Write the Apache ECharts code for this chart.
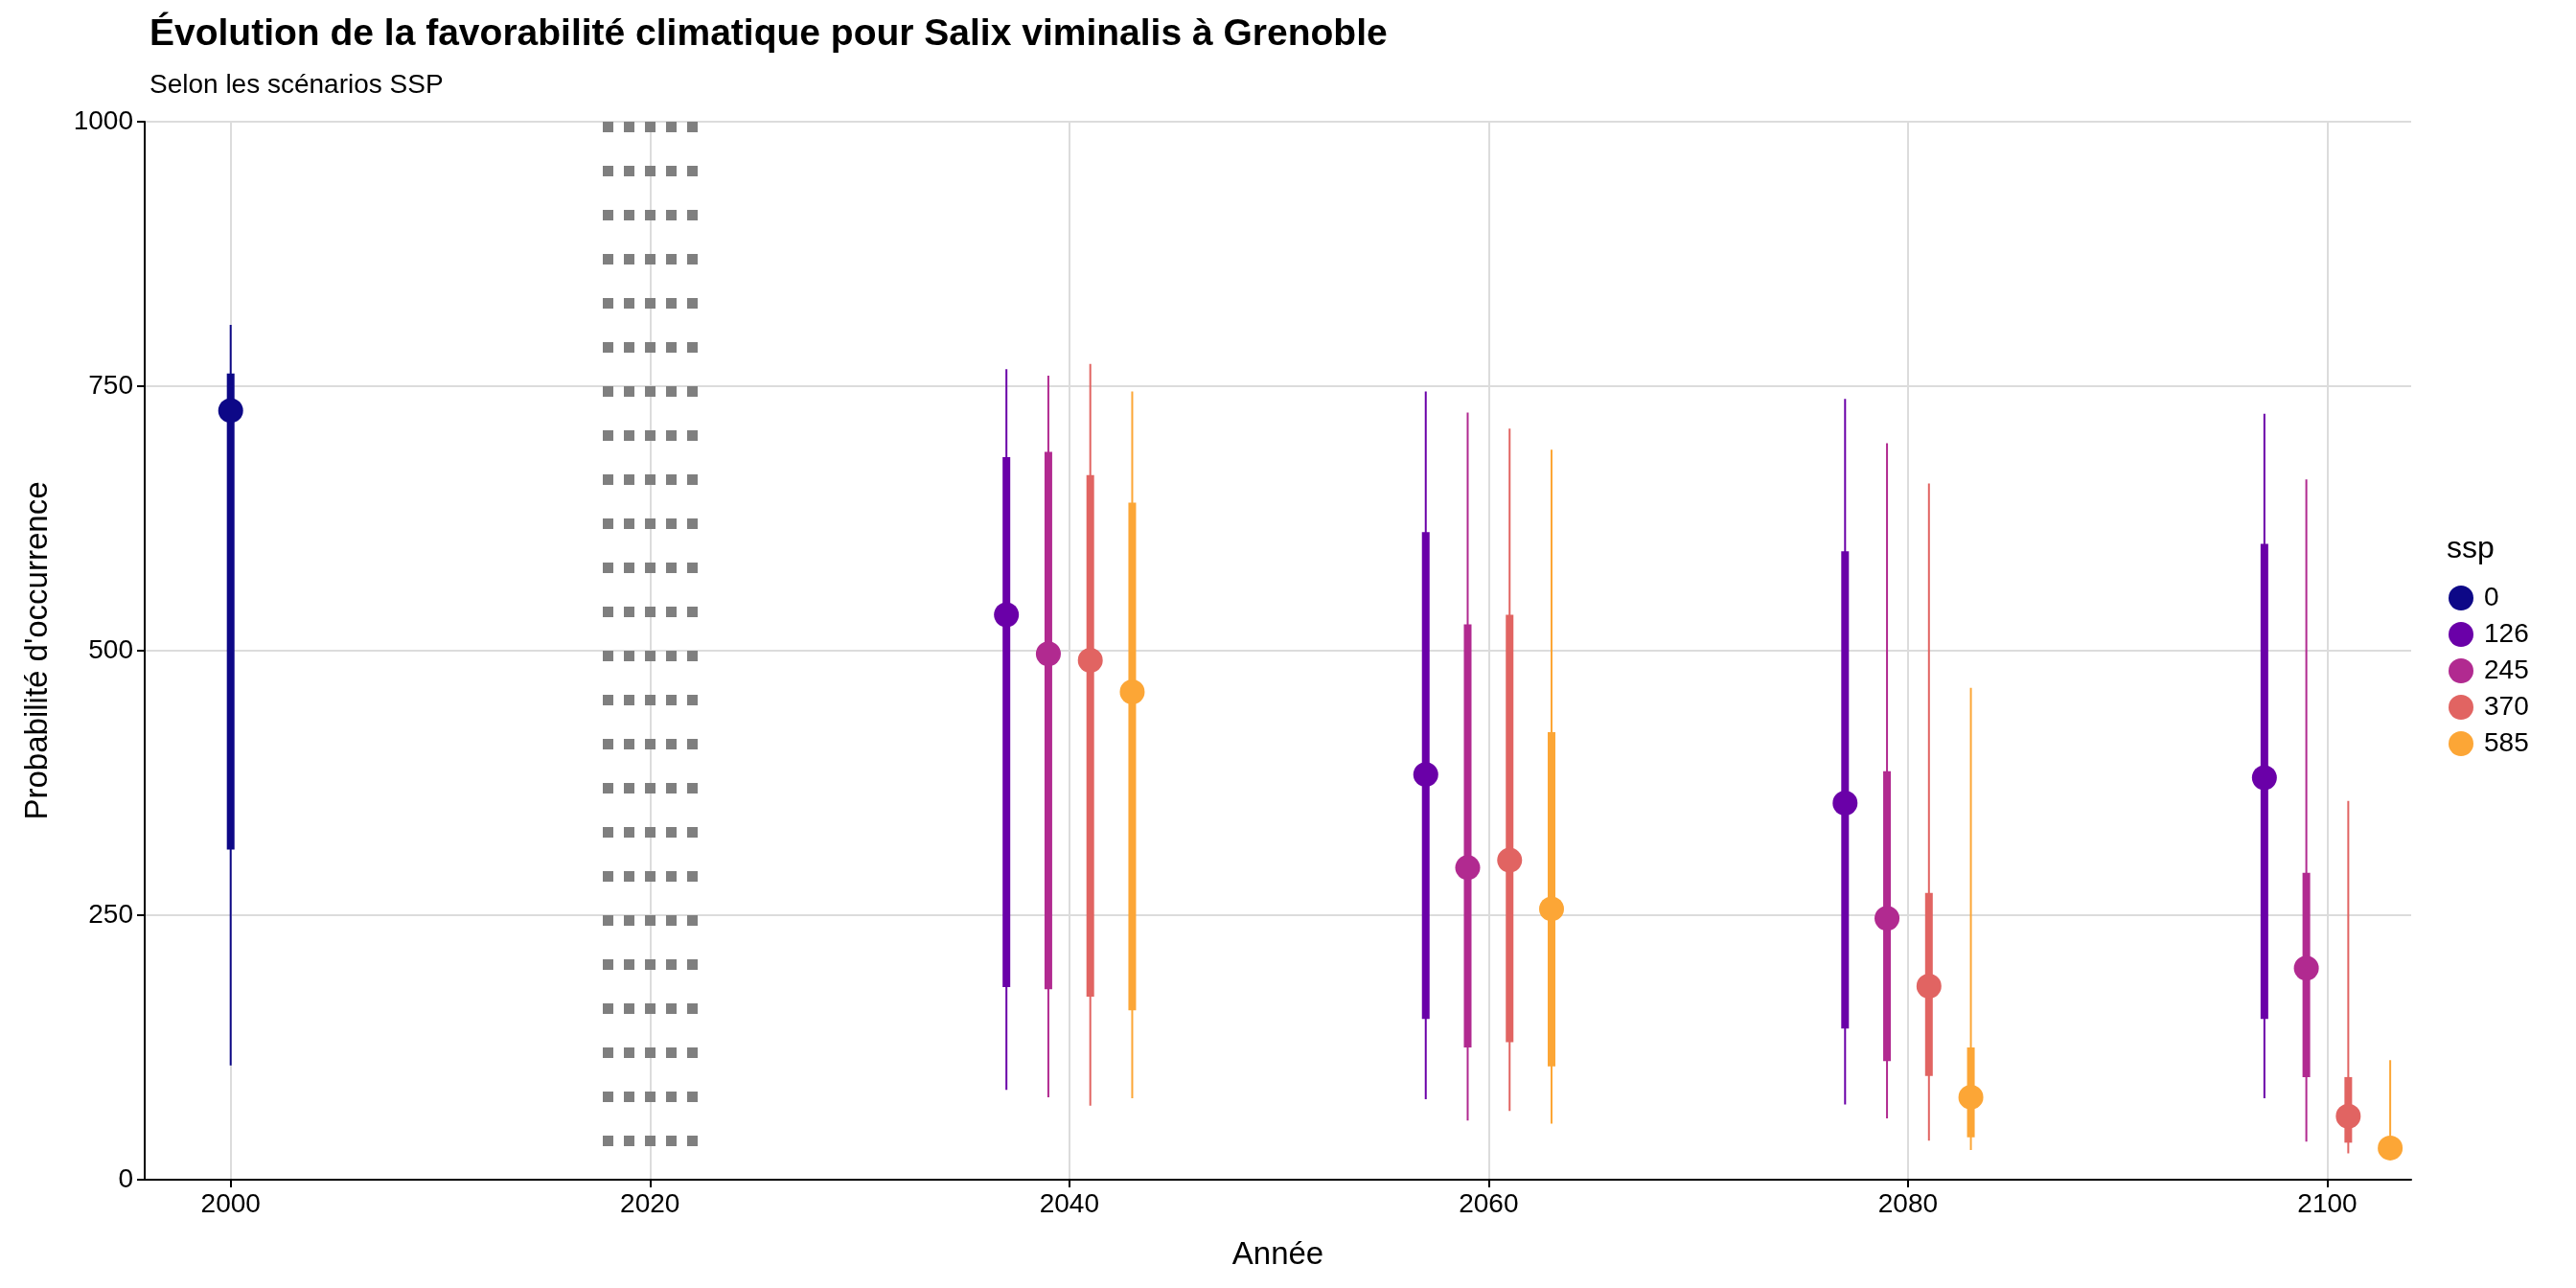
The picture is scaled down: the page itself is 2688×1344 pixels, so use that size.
<!DOCTYPE html>
<html><head><meta charset="utf-8">
<script src="https://cdn.jsdelivr.net/npm/echarts@6/dist/echarts.min.js"></script>
<style>html,body{margin:0;padding:0;background:#fff}#c{width:2688px;height:1344px}</style>
</head><body><div id="c"></div>
<script>
const sspNames = ['0','126','245','370','585'];
const sspColors = ['#0D0887','#6A00A8','#B12A90','#E16462','#FCA636'];
// [year, median, q25, q75, q025, q975]
const ssp0 = [[2000, 727, 312, 762, 108, 808]];
const ssp126 = [[2037,534,182,683,85,766],[2057,383,152,612,76,745],[2077,356,143,594,71,738],[2097,380,152,601,77,724]];
const ssp245 = [[2039,497,180,688,78,760],[2059,295,125,525,56,725],[2079,247,112,386,58,696],[2099,200,97,290,36,662]];
const ssp370 = [[2041,491,173,666,70,771],[2061,302,130,534,65,710],[2081,183,98,271,37,658],[2101,60,35,97,25,358]];
const ssp585 = [[2043,461,160,640,77,745],[2063,256,107,423,53,690],[2083,78,40,125,28,465],[2103,30,27,34,27,113]];
const xTicks = [2000,2020,2040,2060,2080,2100];
const refYears = [2018,2019,2020,2021,2022];
const allData = [ssp0, ssp126, ssp245, ssp370, ssp585];

function renderItem(color){
  return function(params, api){
    const x = api.value(0);
    const m = api.coord([x, api.value(1)]);
    const a = api.coord([x, api.value(2)]), b = api.coord([x, api.value(3)]);
    const c = api.coord([x, api.value(4)]), d = api.coord([x, api.value(5)]);
    return {type:'group', children:[
      {type:'line', shape:{x1:c[0],y1:c[1],x2:d[0],y2:d[1]}, style:{stroke:color,lineWidth:2}},
      {type:'line', shape:{x1:a[0],y1:a[1],x2:b[0],y2:b[1]}, style:{stroke:color,lineWidth:8}},
      {type:'circle', shape:{cx:m[0],cy:m[1],r:13}, style:{fill:color}}
    ]};
  };
}

const series = [{
  type:'line', data:[], silent:true, z:0,
  markLine:{silent:true, symbol:['none','none'], label:{show:false}, z:0,
    data: xTicks.map(v=>({xAxis:v, lineStyle:{color:'#dcdcdc',width:2,type:'solid'}})),
    animation:false}
},{
  type:'line', data:[], silent:true, z:1,
  markLine:{silent:true, symbol:['none','none'], label:{show:false}, z:1,
    data: refYears.map(v=>[{coord:[v,1000]},{coord:[v,0]}]),
    lineStyle:{color:'#7f7f7f',width:11,type:[11,35],cap:'butt'},
    animation:false}
}];
allData.forEach((d,i)=>{
  series.push({type:'custom', name:sspNames[i], data:d, renderItem:renderItem(sspColors[i]), z:5,
    itemStyle:{color:sspColors[i]}, encode:{x:0,y:1}});
});

const chart = echarts.init(document.getElementById('c'));
chart.setOption({
  animation:false,
  title:[{text:'Évolution de la favorabilité climatique pour Salix viminalis à Grenoble', left:151, top:12,
    textStyle:{fontFamily:'Liberation Sans',fontWeight:'bold',fontSize:39,color:'#000'}},
    {text:'Selon les scénarios SSP', left:151, top:70, textStyle:{fontFamily:'Liberation Sans',fontWeight:'normal',fontSize:28,color:'#000'}},
    {text:'ssp', left:2548, top:552, textStyle:{fontFamily:'Liberation Sans',fontWeight:'normal',fontSize:32,color:'#000'}}],
  legend:{orient:'vertical', left:2550, top:605, itemGap:10, itemWidth:26, itemHeight:26, icon:'circle',
    data:sspNames, textStyle:{fontFamily:'Liberation Sans',fontSize:28,color:'#000',padding:[0,0,0,6]}},
  grid:{left:151, right:172, top:127, bottom:113},
  xAxis:{type:'value', min:1995.9, max:2104, name:'Année', nameLocation:'middle', nameGap:62,
    nameTextStyle:{fontFamily:'Liberation Sans',fontSize:33,color:'#000'},
    axisLine:{show:true,lineStyle:{color:'#000',width:2}},
    axisTick:{show:true,customValues:xTicks,length:8,lineStyle:{color:'#000',width:2}},
    axisLabel:{customValues:xTicks,formatter:v=>String(v),fontFamily:'Liberation Sans',fontSize:28,color:'#000',margin:12},
    splitLine:{show:false}},
  yAxis:{type:'value', min:0, max:1000, interval:250, name:"Probabilité d'occurrence", nameLocation:'middle', nameGap:95,
    nameTextStyle:{fontFamily:'Liberation Sans',fontSize:33,color:'#000'},
    axisLine:{show:true,lineStyle:{color:'#000',width:2}},
    axisTick:{show:true,length:8,lineStyle:{color:'#000',width:2}},
    axisLabel:{formatter:v=>String(v),fontFamily:'Liberation Sans',fontSize:28,color:'#000',margin:12},
    splitLine:{show:true,lineStyle:{color:'#dcdcdc',width:2}}},
  series:series
});
</script></body></html>
